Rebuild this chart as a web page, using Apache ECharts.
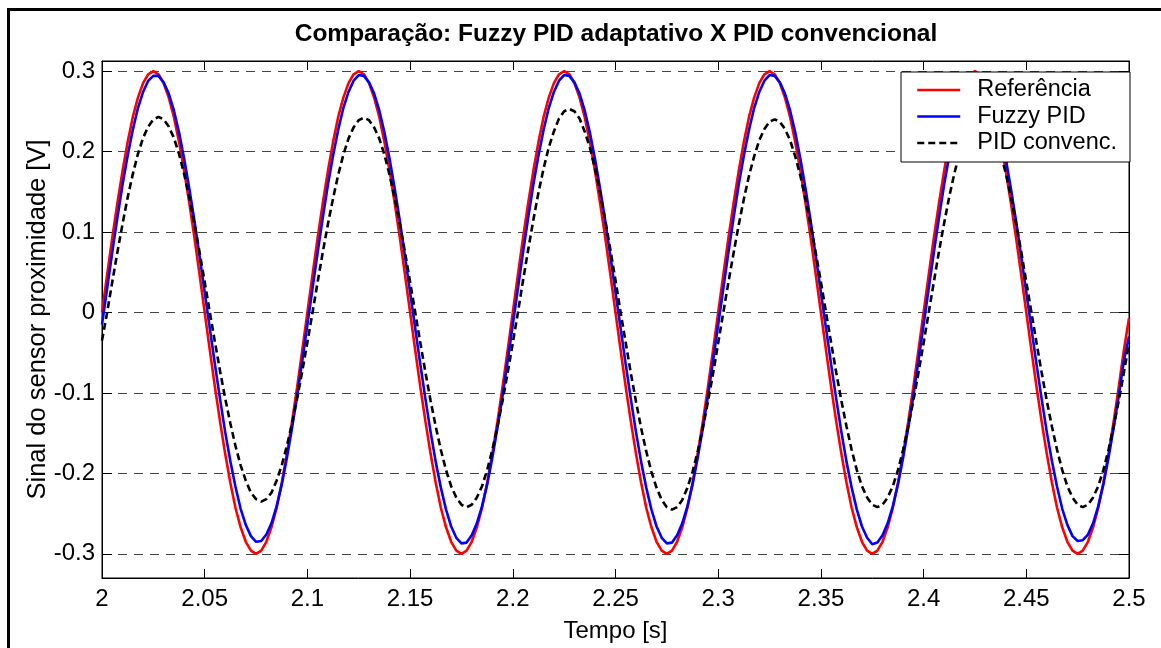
<!DOCTYPE html>
<html><head><meta charset="utf-8">
<script src="https://cdn.jsdelivr.net/npm/echarts@6/dist/echarts.min.js"></script>
<style>html,body{margin:0;padding:0;background:#fff}#c{width:1161px;height:648px}</style>
</head><body><div id="c"></div>
<script>
const titleText = 'Comparação: Fuzzy PID adaptativo X PID convencional';
const seriesNames = ['Referência', 'Fuzzy PID', 'PID convenc.'];
const xLabel = 'Tempo [s]';
const yLabel = 'Sinal do sensor proximidade [V]';
const tStart = 2, tEnd = 2.5, tStep = 0.0025;
const xTickStep = 0.05;
const yTicks = [-0.3, -0.2, -0.1, 0, 0.1, 0.2, 0.3];
const yMin = -0.33, yMax = 0.3125;

const referencia = [
 0, 0.047, 0.093, 0.136, 0.176, 0.212, 0.243, 0.267, 0.285, 0.296, 0.300, 0.296, 0.285, 0.267, 0.243, 0.212, 0.176, 0.136, 0.093, 0.047,
 0, -0.047, -0.093, -0.136, -0.176, -0.212, -0.243, -0.267, -0.285, -0.296, -0.300, -0.296, -0.285, -0.267, -0.243, -0.212, -0.176, -0.136, -0.093, -0.047,
 0, 0.047, 0.093, 0.136, 0.176, 0.212, 0.243, 0.267, 0.285, 0.296, 0.300, 0.296, 0.285, 0.267, 0.243, 0.212, 0.176, 0.136, 0.093, 0.047,
 0, -0.047, -0.093, -0.136, -0.176, -0.212, -0.243, -0.267, -0.285, -0.296, -0.300, -0.296, -0.285, -0.267, -0.243, -0.212, -0.176, -0.136, -0.093, -0.047,
 0, 0.047, 0.093, 0.136, 0.176, 0.212, 0.243, 0.267, 0.285, 0.296, 0.300, 0.296, 0.285, 0.267, 0.243, 0.212, 0.176, 0.136, 0.093, 0.047,
 0, -0.047, -0.093, -0.136, -0.176, -0.212, -0.243, -0.267, -0.285, -0.296, -0.300, -0.296, -0.285, -0.267, -0.243, -0.212, -0.176, -0.136, -0.093, -0.047,
 0, 0.047, 0.093, 0.136, 0.176, 0.212, 0.243, 0.267, 0.285, 0.296, 0.300, 0.296, 0.285, 0.267, 0.243, 0.212, 0.176, 0.136, 0.093, 0.047,
 0, -0.047, -0.093, -0.136, -0.176, -0.212, -0.243, -0.267, -0.285, -0.296, -0.300, -0.296, -0.285, -0.267, -0.243, -0.212, -0.176, -0.136, -0.093, -0.047,
 0, 0.047, 0.093, 0.136, 0.176, 0.212, 0.243, 0.267, 0.285, 0.296, 0.300, 0.296, 0.285, 0.267, 0.243, 0.212, 0.176, 0.136, 0.093, 0.047,
 0, -0.047, -0.093, -0.136, -0.176, -0.212, -0.243, -0.267, -0.285, -0.296, -0.300, -0.296, -0.285, -0.267, -0.243, -0.212, -0.176, -0.136, -0.093, -0.047,
 -0.007
];

const fuzzyPid = [
 -0.015, 0.030, 0.075, 0.118, 0.159, 0.195, 0.227, 0.254, 0.274, 0.288, 0.294, 0.294, 0.286, 0.272, 0.251, 0.224, 0.191, 0.154, 0.114, 0.070,
 0.025, -0.020, -0.065, -0.108, -0.149, -0.185, -0.217, -0.244, -0.264, -0.278, -0.285, -0.284, -0.276, -0.262, -0.241, -0.214, -0.181, -0.144, -0.104, -0.060,
 -0.015, 0.030, 0.075, 0.118, 0.159, 0.195, 0.227, 0.254, 0.274, 0.288, 0.295, 0.294, 0.286, 0.272, 0.251, 0.224, 0.191, 0.154, 0.114, 0.070,
 0.025, -0.020, -0.065, -0.108, -0.149, -0.186, -0.218, -0.245, -0.266, -0.280, -0.287, -0.286, -0.277, -0.262, -0.241, -0.214, -0.181, -0.144, -0.104, -0.060,
 -0.015, 0.030, 0.075, 0.118, 0.159, 0.195, 0.227, 0.254, 0.274, 0.288, 0.295, 0.294, 0.286, 0.272, 0.251, 0.224, 0.191, 0.154, 0.114, 0.070,
 0.025, -0.020, -0.065, -0.108, -0.149, -0.186, -0.218, -0.245, -0.266, -0.280, -0.287, -0.286, -0.277, -0.262, -0.241, -0.214, -0.181, -0.144, -0.104, -0.060,
 -0.015, 0.030, 0.075, 0.118, 0.159, 0.195, 0.227, 0.254, 0.274, 0.288, 0.295, 0.294, 0.286, 0.272, 0.251, 0.224, 0.191, 0.154, 0.114, 0.070,
 0.025, -0.020, -0.065, -0.108, -0.149, -0.186, -0.218, -0.245, -0.266, -0.280, -0.288, -0.286, -0.277, -0.262, -0.241, -0.214, -0.181, -0.144, -0.104, -0.060,
 -0.015, 0.030, 0.075, 0.118, 0.159, 0.195, 0.227, 0.254, 0.274, 0.288, 0.294, 0.294, 0.286, 0.272, 0.251, 0.224, 0.191, 0.154, 0.114, 0.070,
 0.025, -0.020, -0.065, -0.108, -0.149, -0.185, -0.217, -0.244, -0.264, -0.278, -0.284, -0.283, -0.276, -0.262, -0.241, -0.214, -0.181, -0.144, -0.104, -0.060,
 -0.030
];

const pidConvencional = [
 -0.035,
 0, 0.038, 0.075, 0.110, 0.143, 0.172, 0.197, 0.217, 0.231, 0.240, 0.243, 0.240, 0.231, 0.217, 0.197, 0.172, 0.143, 0.110, 0.075, 0.038,
 0, -0.037, -0.073, -0.107, -0.138, -0.166, -0.190, -0.209, -0.224, -0.232, -0.235, -0.232, -0.224, -0.209, -0.190, -0.166, -0.138, -0.107, -0.073, -0.037,
 0, 0.038, 0.075, 0.110, 0.142, 0.171, 0.196, 0.216, 0.230, 0.239, 0.242, 0.239, 0.230, 0.216, 0.196, 0.171, 0.142, 0.110, 0.075, 0.038,
 0, -0.038, -0.075, -0.110, -0.142, -0.171, -0.196, -0.216, -0.230, -0.239, -0.242, -0.239, -0.230, -0.216, -0.196, -0.171, -0.142, -0.110, -0.075, -0.038,
 0, 0.040, 0.078, 0.115, 0.149, 0.179, 0.205, 0.225, 0.241, 0.250, 0.253, 0.250, 0.241, 0.225, 0.205, 0.179, 0.149, 0.115, 0.078, 0.040,
 0, -0.038, -0.076, -0.111, -0.144, -0.173, -0.198, -0.218, -0.233, -0.242, -0.245, -0.242, -0.233, -0.218, -0.198, -0.173, -0.144, -0.111, -0.076, -0.038,
 0, 0.038, 0.074, 0.109, 0.141, 0.170, 0.194, 0.214, 0.228, 0.237, 0.240, 0.237, 0.228, 0.214, 0.194, 0.170, 0.141, 0.109, 0.074, 0.038,
 0, -0.038, -0.075, -0.110, -0.142, -0.171, -0.196, -0.216, -0.230, -0.239, -0.242, -0.239, -0.230, -0.216, -0.196, -0.171, -0.142, -0.110, -0.075, -0.038,
 0, 0.038, 0.076, 0.111, 0.144, 0.173, 0.198, 0.218, 0.233, 0.242, 0.245, 0.242, 0.233, 0.218, 0.198, 0.173, 0.144, 0.111, 0.076, 0.038,
 0, -0.038, -0.075, -0.110, -0.142, -0.171, -0.196, -0.216, -0.230, -0.239, -0.242, -0.239, -0.230, -0.216, -0.196, -0.171, -0.142, -0.110, -0.075, -0.038
];

const seriesColors = ['#ff0000', '#0000ff', '#000000'];

function pairs(vals) {
  return vals.map((v, k) => [+(tStart + k * tStep).toFixed(4), v]);
}

const FONT = 'Liberation Sans';
const chart = echarts.init(document.getElementById('c'), null, {renderer: 'canvas'});
const baseX = {
  type: 'value', min: tStart, max: tEnd, interval: xTickStep,
  axisLine: {show: true, onZero: false, lineStyle: {color: '#000', width: 1}},
  splitLine: {show: false}
};
const baseY = {
  type: 'value', min: yMin, max: yMax,
  axisLine: {show: true, onZero: false, lineStyle: {color: '#000', width: 1}}
};
const option = {
  animation: false,
  backgroundColor: '#fff',
  title: {
    text: titleText, left: 616, top: 22, textAlign: 'center', padding: 0,
    textStyle: {fontFamily: FONT, fontWeight: 'bold', fontSize: 24.5, color: '#000'}
  },
  grid: {left: 102, top: 61, right: 32, bottom: 70, show: true, borderColor: '#000', borderWidth: 1, backgroundColor: 'transparent'},
  legend: {
    orient: 'vertical', left: 901, top: 72, z: 20,
    padding: [6, 13, 7, 15], itemGap: 2.5, itemWidth: 43, itemHeight: 14,
    backgroundColor: '#fff', borderColor: '#000', borderWidth: 1, borderRadius: 0,
    data: seriesNames,
    itemStyle: {opacity: 0},
    lineStyle: {width: 2.5},
    textStyle: {fontFamily: FONT, fontSize: 23.5, color: '#000', lineHeight: 23, padding: [0, 0, 0, 12]}
  },
  xAxis: [
    Object.assign({}, baseX, {
      position: 'bottom',
      axisTick: {show: true, inside: true, length: 9, lineStyle: {color: '#000'}},
      axisLabel: {show: true, margin: 9, color: '#000', fontFamily: FONT, fontSize: 24,
        formatter: v => String(+v.toFixed(2))},
      name: xLabel, nameLocation: 'middle', nameGap: 53, nameMoveOverlap: false,
      nameTextStyle: {fontFamily: FONT, fontSize: 24, color: '#000', verticalAlign: 'middle'}
    }),
    Object.assign({}, baseX, {
      position: 'top',
      axisTick: {show: true, inside: true, length: 9, lineStyle: {color: '#000'}},
      axisLabel: {show: false}
    })
  ],
  yAxis: [
    Object.assign({}, baseY, {
      position: 'left',
      axisTick: {show: true, inside: true, length: 10, customValues: yTicks, lineStyle: {color: '#000'}},
      axisLabel: {show: true, margin: 7, customValues: yTicks, color: '#000', fontFamily: FONT, fontSize: 24,
        formatter: v => String(+(+v).toFixed(2))},
      splitLine: {show: true, lineStyle: {color: '#444', width: 1, type: [9, 7]}},
      name: yLabel, nameLocation: 'middle', nameGap: 64, nameRotate: 90, nameMoveOverlap: false,
      nameTextStyle: {fontFamily: FONT, fontSize: 25.5, color: '#000', verticalAlign: 'middle'}
    }),
    Object.assign({}, baseY, {
      position: 'right',
      axisTick: {show: true, inside: true, length: 10, customValues: yTicks, lineStyle: {color: '#000'}},
      axisLabel: {show: false},
      splitLine: {show: false}
    })
  ],
  series: [
    {name: seriesNames[0], type: 'line', data: pairs(referencia), symbol: 'none', showSymbol: false,
     lineStyle: {color: seriesColors[0], width: 2.6}, itemStyle: {color: seriesColors[0]}, clip: true, z: 2},
    {name: seriesNames[1], type: 'line', data: pairs(fuzzyPid), symbol: 'none', showSymbol: false,
     lineStyle: {color: seriesColors[1], width: 2.6}, itemStyle: {color: seriesColors[1]}, clip: true, z: 2},
    {name: seriesNames[2], type: 'line', data: pairs(pidConvencional), symbol: 'none', showSymbol: false,
     lineStyle: {color: seriesColors[2], width: 2.6, type: [7, 4]}, itemStyle: {color: seriesColors[2]}, clip: true, z: 2}
  ],
  graphic: [{
    type: 'rect', silent: true, z: 100,
    shape: {x: 8.5, y: 9.5, width: 1400, height: 900},
    style: {fill: 'none', stroke: '#000', lineWidth: 3}
  }]
};
chart.setOption(option);
</script>
</body></html>
